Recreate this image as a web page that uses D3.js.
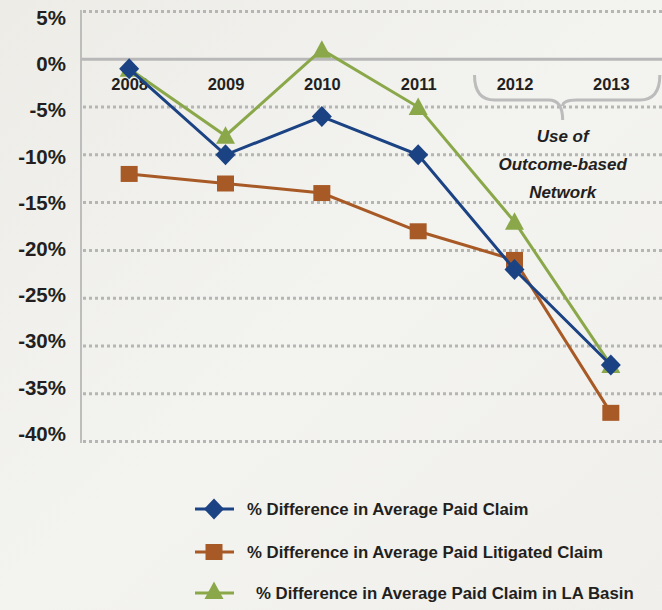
<!DOCTYPE html>
<html>
<head>
<meta charset="utf-8">
<script src="https://cdn.jsdelivr.net/npm/d3@7"></script>
<style>
  html, body { margin: 0; padding: 0; background: #efeee9; }
  svg { display: block; }
  text { font-family: "Liberation Sans", Arial, Helvetica, sans-serif; fill: #231f20; }
</style>
</head>
<body>
<svg id="chart" width="662" height="610"></svg>
<script>
const years = ["2008", "2009", "2010", "2011", "2012", "2013"];
const paidClaim = [-1, -10, -6, -10, -22, -32];
const litigatedClaim = [-12, -13, -14, -18, -21, -37];
const laBasinClaim = [-1, -8, 1, -5, -17, -32];
const yTicks = [5, 0, -5, -10, -15, -20, -25, -30, -35, -40];
const seriesNames = [
  "% Difference in Average Paid Claim",
  "% Difference in Average Paid Litigated Claim",
  "% Difference in Average Paid Claim in LA Basin"
];
const annotationLines = ["Use of", "Outcome-based", "Network"];

const colors = ["#1b4283", "#a85a26", "#8aa84a"];
const shapes = ["diamond", "square", "triangle"];
const seriesData = [paidClaim, litigatedClaim, laBasinClaim];

const svg = d3.select("#chart");

const defs = svg.append("defs");
const grad = defs.append("linearGradient").attr("id", "bg").attr("x1", 0).attr("y1", 0).attr("x2", 1).attr("y2", 1);
grad.append("stop").attr("offset", "0%").attr("stop-color", "#edece7");
grad.append("stop").attr("offset", "50%").attr("stop-color", "#f3f3f0");
grad.append("stop").attr("offset", "100%").attr("stop-color", "#f0efeb");
svg.append("rect").attr("width", 662).attr("height", 610).attr("fill", "url(#bg)");

const x = d3.scalePoint().domain(years).range([81, 659]).padding(0.5);
const y = d3.scaleLinear().domain([5, -40]).range([11.5, 441.5]);
// tick labels in the original sit on a slightly tighter spacing than the gridlines
const yLabel = d3.scaleLinear().domain([5, -40]).range([17, 433]);

// gridlines
svg.append("g").selectAll("line").data(yTicks.filter(d => d !== 0)).join("line")
  .attr("x1", 83).attr("x2", 662)
  .attr("y1", d => y(d)).attr("y2", d => y(d))
  .attr("stroke", "#b5b5b3").attr("stroke-width", 3).attr("stroke-dasharray", "3,3");

// y axis line
svg.append("line").attr("x1", 81).attr("x2", 81).attr("y1", 10).attr("y2", 443)
  .attr("stroke", "#bdbdbb").attr("stroke-width", 2);

// zero line
svg.append("line").attr("x1", 81).attr("x2", 662).attr("y1", y(0)).attr("y2", y(0))
  .attr("stroke", "#b8b8b8").attr("stroke-width", 3);

// y labels via axis
const yAxis = d3.axisLeft(yLabel).tickValues(yTicks).tickSize(0).tickPadding(0).tickFormat(d => d + "%");
const yg = svg.append("g").attr("transform", "translate(66,0)").call(yAxis);
yg.select(".domain").remove();
yg.selectAll("text").attr("font-size", 20.5).attr("font-weight", "bold")
  .attr("font-family", "'Liberation Sans', Arial, sans-serif").attr("fill", "#231f20")
  .attr("dy", "0.36em");

// x labels via axis
const xAxis = d3.axisBottom(x).tickSize(0).tickPadding(0);
const xg = svg.append("g").attr("transform", "translate(0,78)").call(xAxis);
xg.select(".domain").remove();
xg.selectAll("text").attr("font-size", 16.5).attr("font-weight", "bold")
  .attr("font-family", "'Liberation Sans', Arial, sans-serif").attr("fill", "#231f20")
  .attr("dy", "0.71em");

// brace annotation
const bx1 = x("2012") - 40, bx2 = x("2013") + 49, bmid = (x("2012") + x("2013")) / 2;
const bTop = 75, bLine = 100, bTip = 120, r = 14;
const brace = d3.path();
brace.moveTo(bx1, bTop);
brace.quadraticCurveTo(bx1, bLine, bx1 + r + 6, bLine);
brace.lineTo(bmid - r, bLine);
brace.quadraticCurveTo(bmid, bLine, bmid, bTip);
brace.moveTo(bmid, bLine + 6);
brace.quadraticCurveTo(bmid, bLine, bmid + r, bLine);
brace.lineTo(bx2 - r - 6, bLine);
brace.quadraticCurveTo(bx2, bLine, bx2, bTop);
svg.append("path").attr("d", brace.toString()).attr("fill", "none")
  .attr("stroke", "#bcbcbc").attr("stroke-width", 3);

svg.append("g").selectAll("text").data(annotationLines).join("text")
  .attr("x", bmid).attr("y", (d, i) => 142 + i * 28)
  .attr("text-anchor", "middle").attr("font-size", 17).attr("font-weight", "bold")
  .attr("font-style", "italic").text(d => d);

function symbolPath(shape) {
  if (shape === "diamond") return "M0,-10.5L10,0L0,10.5L-10,0Z";
  if (shape === "square") return "M-8.5,-8L8.5,-8L8.5,8L-8.5,8Z";
  return "M0,-10.5L9.5,7L-9.5,7Z";
}

const order = [1, 2, 0];
const line = d3.line().x((d, i) => x(years[i])).y(d => y(d));
order.forEach(si => {
  const g = svg.append("g");
  g.append("path").datum(seriesData[si]).attr("d", line)
    .attr("fill", "none").attr("stroke", colors[si]).attr("stroke-width", 3);
  g.selectAll("path.m").data(seriesData[si]).join("path").attr("class", "m")
    .attr("transform", (d, i) => `translate(${x(years[i])},${y(d) + (shapes[si] === "triangle" ? 1 : 0)})`)
    .attr("d", symbolPath(shapes[si])).attr("fill", colors[si]);
});

// legend
const legendY = [509, 552, 593];
const legendTextX = [33, 33, 42];
const lg = svg.append("g").selectAll("g").data(seriesNames).join("g")
  .attr("transform", (d, i) => `translate(214,${legendY[i]})`);
lg.append("line").attr("x1", -19).attr("x2", 20).attr("y1", 0).attr("y2", 0)
  .attr("stroke", (d, i) => colors[i]).attr("stroke-width", 3);
lg.append("path").attr("d", (d, i) => symbolPath(shapes[i]))
  .attr("transform", (d, i) => shapes[i] === "triangle" ? "translate(0,-1)" : null)
  .attr("fill", (d, i) => colors[i]);
lg.append("text").attr("x", (d, i) => legendTextX[i]).attr("y", 0).attr("dy", "0.36em")
  .attr("font-size", 16.8).attr("font-weight", "bold")
  .text(d => d);
</script>
</body>
</html>
